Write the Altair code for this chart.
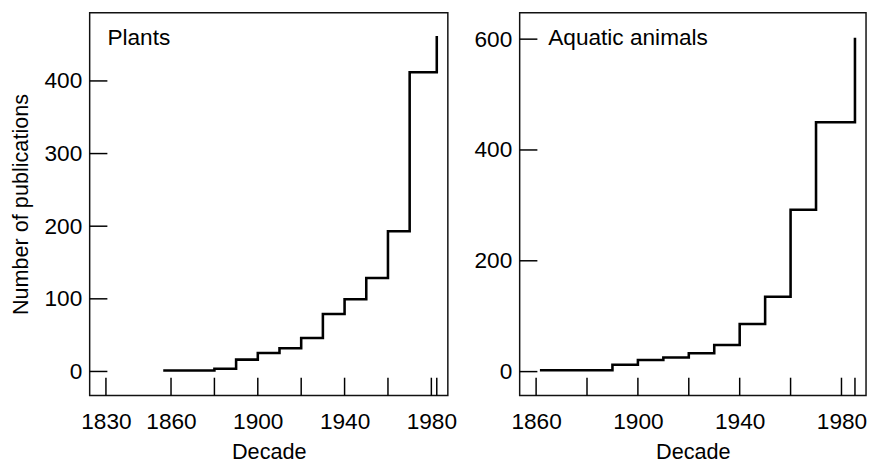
import altair as alt
import pandas as pd

# ---- data ----
plants_years = [1857, 1880, 1890, 1900, 1910, 1920, 1930, 1940, 1950, 1960, 1970, 1982.5]
plants_counts = [1.4, 3.7, 16.3, 25.3, 32, 46, 79, 99.5, 128.7, 193, 412, 460]

aquatic_years = [1862, 1890, 1900, 1910, 1920, 1930, 1940, 1950, 1960, 1970, 1985.3]
aquatic_counts = [2.4, 12.5, 20.8, 25.6, 33, 48, 86, 135, 292, 450, 600]

plants_xticks = [1830, 1860, 1880, 1900, 1920, 1940, 1960, 1980, 1982.5]
plants_xlabels = [1830, 1860, 1900, 1940, 1980]
aquatic_xticks = [1860, 1880, 1900, 1920, 1940, 1960, 1980, 1985.3]
aquatic_xlabels = [1860, 1900, 1940, 1980]
plants_yticks = [0, 100, 200, 300, 400]
aquatic_yticks = [0, 200, 400, 600]

FONT = "Liberation Sans"
H = 389


def panel(years, counts, xticks, xlabels, yticks, xdom, ydom, width, label, label_x, ytitle):
    df = pd.DataFrame({"year": years, "count": counts})
    xscale = alt.Scale(domain=xdom, nice=False, zero=False)
    yscale = alt.Scale(domain=ydom, nice=False, zero=False)
    yaxis_kwargs = dict(values=yticks, ticks=False, domain=False, grid=False,
                        labelPadding=8, labelFont=FONT, labelFontSize=23,
                        labelColor="black", labelFlush=False, labelOverlap=False)
    if ytitle:
        yaxis = alt.Axis(title=ytitle, titleFont=FONT, titleFontSize=22,
                         titleFontWeight="normal", titleColor="black",
                         titlePadding=12, **yaxis_kwargs)
    else:
        yaxis = alt.Axis(title=None, **yaxis_kwargs)
    xaxis = alt.Axis(values=xlabels, format="d", ticks=False, domain=False, grid=False,
                     labelPadding=16, labelFont=FONT, labelFontSize=23,
                     labelColor="black", labelFlush=False, labelOverlap=False,
                     title="Decade", titleFont=FONT, titleFontSize=22,
                     titleFontWeight="normal", titleColor="black", titlePadding=8)

    line = alt.Chart(df).mark_line(
        interpolate="step-after", color="black", strokeWidth=2.6, strokeCap="square"
    ).encode(
        x=alt.X("year:Q", scale=xscale, axis=xaxis),
        y=alt.Y("count:Q", scale=yscale, axis=yaxis),
    )

    xt = alt.Chart(pd.DataFrame({"year": xticks})).mark_rule(
        color="black", strokeWidth=1.5
    ).encode(
        x=alt.X("year:Q", scale=xscale),
        y=alt.value(H - 18),
        y2=alt.value(H),
    )

    yt = alt.Chart(pd.DataFrame({"count": yticks})).mark_rule(
        color="black", strokeWidth=1.5
    ).encode(
        y=alt.Y("count:Q", scale=yscale),
        x=alt.value(0),
        x2=alt.value(18),
    )

    txt = alt.Chart(pd.DataFrame({"label": [label]})).mark_text(
        align="left", baseline="alphabetic", font=FONT, fontSize=23, color="black"
    ).encode(
        text="label:N",
        x=alt.value(label_x),
        y=alt.value(33),
    )

    return alt.layer(line, xt, yt, txt).properties(width=width, height=H)


left = panel(plants_years, plants_counts, plants_xticks, plants_xlabels, plants_yticks,
             [1822.5, 1987.6], [-33, 494], 364, "Plants", 18, "Number of publications")
right = panel(aquatic_years, aquatic_counts, aquatic_xticks, aquatic_xlabels, aquatic_yticks,
              [1853.54, 1989.65], [-43, 647.8], 352, "Aquatic animals", 29, None)

chart = alt.hconcat(left, right, spacing=15).properties(
    padding={"left": 0, "top": 0, "right": 0, "bottom": 0},
    background="white",
).configure_view(
    stroke="#111", strokeWidth=1.5
)

chart.save("out.html", embed_options={"renderer": "svg", "actions": False})
